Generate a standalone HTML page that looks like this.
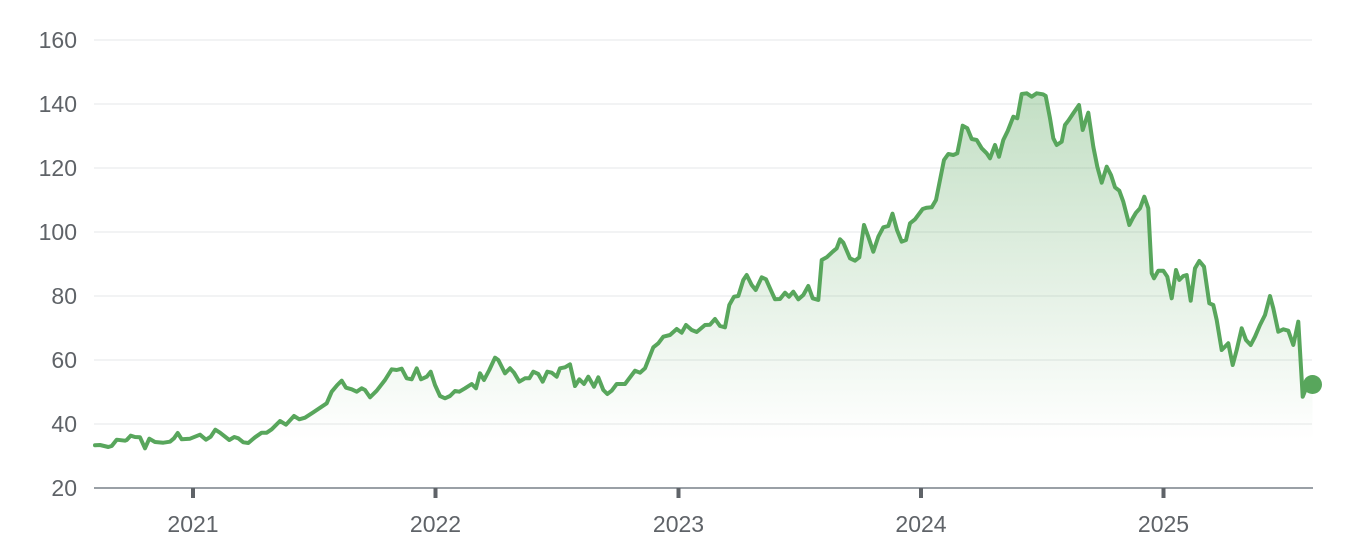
<!DOCTYPE html>
<html><head><meta charset="utf-8"><style>
html,body{margin:0;padding:0;background:#fff;}
svg{display:block;}
text{font-family:"Liberation Sans",Arial,sans-serif;font-size:23px;fill:#5f6368;}
</style></head><body>
<svg width="1348" height="552" viewBox="0 0 1348 552" xmlns="http://www.w3.org/2000/svg">
<defs>
<linearGradient id="g" gradientUnits="userSpaceOnUse" x1="0" y1="93" x2="0" y2="440">
<stop offset="0" stop-color="#58a65c" stop-opacity="0.36"/>
<stop offset="1" stop-color="#58a65c" stop-opacity="0"/>
</linearGradient>
</defs>
<g stroke="#eeeff0" stroke-width="1.5">
<line x1="94" y1="40" x2="1312" y2="40"/>
<line x1="94" y1="104" x2="1312" y2="104"/>
<line x1="94" y1="168" x2="1312" y2="168"/>
<line x1="94" y1="232" x2="1312" y2="232"/>
<line x1="94" y1="296" x2="1312" y2="296"/>
<line x1="94" y1="360" x2="1312" y2="360"/>
<line x1="94" y1="424" x2="1312" y2="424"/>
</g>
<g text-anchor="end">
<text x="77" y="48">160</text>
<text x="77" y="112">140</text>
<text x="77" y="176">120</text>
<text x="77" y="240">100</text>
<text x="77" y="304">80</text>
<text x="77" y="368">60</text>
<text x="77" y="432">40</text>
<text x="77" y="496">20</text>
</g>
<path fill="url(#g)" stroke="none" d="M95,445.3 L100,445 108.3,447 111.7,446 116.7,439.7 125,440.7 126.7,440 130.7,435.7 135,437 140,437.3 145,448.3 149.3,438.7 155,442 163.3,442.7 170,441.7 174,438.3 177.7,433 181.7,439.3 190,438.7 200,434.7 206,439.7 210.7,436.7 215.3,429.7 220,432.7 229.3,440 234.3,437 238.3,438.3 243.3,442.3 248.3,443 255,437.3 261.7,432.7 266.7,432.7 271.7,429.3 280,421 286,424.7 294,416 299.3,419.3 305,417.7 313.3,412.3 326.7,403.3 331.7,391.7 337.3,385 341.7,380.7 346,387.7 351.7,389.3 356.7,391.7 361.7,388.3 365,390 370,397.3 376.7,390.7 385,380 391.7,369.3 396.7,370 401.7,368.7 406.7,378.3 411.7,379.3 416.7,368.3 421,379.3 426.7,376.7 430.7,371.7 435,385 440,396 445,398.3 450,396 455,391 459.3,391.7 465,388.3 471.7,384 476,388.3 480,373.3 484,380 489.3,370 495,357.7 498.3,360 505,373.3 510,368.3 514,372.7 519.3,381.7 525,378.3 529.3,378.3 533.3,371.7 538.3,374 542.7,381.7 547.3,371.7 551.7,372.7 556.7,376.7 560,368.3 565,367.3 570,364.3 575,386 579.3,379.3 584,384 588.3,376.7 594,386.7 598.3,377.3 603.3,390 607.3,394 611.7,390.7 616.7,384 625,384 635,370.7 640,372.7 645,368.3 653.3,347.3 658.3,343.3 663.3,336.7 670,335 676.7,329 681.7,332.7 686,325 691.7,330 696.7,332 705,325 710,324.7 715,319 720,326 725,327.3 729.3,305 734,296.7 738.3,296 743.3,280 746.7,275 751.7,285 755.7,290 761.7,277.3 766,279.3 770,288.3 775,299.3 780,299 785,292.7 789,296.7 793.3,291.7 798.3,299.3 803.3,295 808.3,286 812.7,298.3 818.3,300 821.7,260 826.7,257.3 832.7,251.7 836.7,248.3 840,239.3 843.3,242.7 850,258.3 855,260.7 859.3,257.3 864,225 868.3,236.7 873.3,251.7 878.3,236.7 883.3,227.3 888.3,226 892.5,213.7 897,230 901.7,241.7 906,240 910,223.3 915,219.3 922.7,209 926.7,207.7 931.7,207.3 936,200 940,180 944,160 948.3,154 953.3,155 957.3,153.3 960,140 962.7,125.7 967.3,128.3 971.7,139 976.7,140 981.7,148.3 986.7,153.3 990,158.3 995,145 999,156.7 1003.3,140 1007.7,131 1013.3,116.7 1017.3,118.3 1021.7,94 1026.7,93.3 1031.7,96.7 1036.7,93.3 1043,94.3 1045.7,96 1050,118.3 1053.3,138.3 1056.7,145 1061.7,141.7 1065,125 1068.3,120.7 1073.3,113.3 1079,105 1082.7,130 1088.3,112.7 1093.3,146.7 1097.3,166.7 1101.7,182.7 1106.7,166.7 1111,175 1115,187.3 1119.3,190.7 1123.3,201.7 1129.3,225 1132.7,218.3 1136,212.7 1140,208.3 1144.3,196.7 1148.3,208.3 1151.7,273.3 1154,278.3 1158.3,270.7 1163.3,270.7 1167.3,276.7 1171.7,298.3 1176,270 1179.3,280 1183.3,276 1186.7,275 1190.7,300.7 1195,268.3 1199.3,261 1204,266.7 1209.3,303.3 1213.3,305 1216.7,320 1221.7,350 1228.3,343.3 1232.7,365 1236.7,350 1241.7,328.3 1246,340 1250.7,345 1255,336.7 1260,325 1265,315 1270,296 1273.3,308.3 1278.3,331.7 1283.3,329.3 1288.3,330.7 1293.3,345 1298.3,321.7 1302.7,396.7 1306.7,386.7 1312.5,384.5 L1312.5,488 L95,488 Z"/>
<polyline fill="none" stroke="#58a65c" stroke-width="4" stroke-linejoin="round" stroke-linecap="round" points="95,445.3 100,445 108.3,447 111.7,446 116.7,439.7 125,440.7 126.7,440 130.7,435.7 135,437 140,437.3 145,448.3 149.3,438.7 155,442 163.3,442.7 170,441.7 174,438.3 177.7,433 181.7,439.3 190,438.7 200,434.7 206,439.7 210.7,436.7 215.3,429.7 220,432.7 229.3,440 234.3,437 238.3,438.3 243.3,442.3 248.3,443 255,437.3 261.7,432.7 266.7,432.7 271.7,429.3 280,421 286,424.7 294,416 299.3,419.3 305,417.7 313.3,412.3 326.7,403.3 331.7,391.7 337.3,385 341.7,380.7 346,387.7 351.7,389.3 356.7,391.7 361.7,388.3 365,390 370,397.3 376.7,390.7 385,380 391.7,369.3 396.7,370 401.7,368.7 406.7,378.3 411.7,379.3 416.7,368.3 421,379.3 426.7,376.7 430.7,371.7 435,385 440,396 445,398.3 450,396 455,391 459.3,391.7 465,388.3 471.7,384 476,388.3 480,373.3 484,380 489.3,370 495,357.7 498.3,360 505,373.3 510,368.3 514,372.7 519.3,381.7 525,378.3 529.3,378.3 533.3,371.7 538.3,374 542.7,381.7 547.3,371.7 551.7,372.7 556.7,376.7 560,368.3 565,367.3 570,364.3 575,386 579.3,379.3 584,384 588.3,376.7 594,386.7 598.3,377.3 603.3,390 607.3,394 611.7,390.7 616.7,384 625,384 635,370.7 640,372.7 645,368.3 653.3,347.3 658.3,343.3 663.3,336.7 670,335 676.7,329 681.7,332.7 686,325 691.7,330 696.7,332 705,325 710,324.7 715,319 720,326 725,327.3 729.3,305 734,296.7 738.3,296 743.3,280 746.7,275 751.7,285 755.7,290 761.7,277.3 766,279.3 770,288.3 775,299.3 780,299 785,292.7 789,296.7 793.3,291.7 798.3,299.3 803.3,295 808.3,286 812.7,298.3 818.3,300 821.7,260 826.7,257.3 832.7,251.7 836.7,248.3 840,239.3 843.3,242.7 850,258.3 855,260.7 859.3,257.3 864,225 868.3,236.7 873.3,251.7 878.3,236.7 883.3,227.3 888.3,226 892.5,213.7 897,230 901.7,241.7 906,240 910,223.3 915,219.3 922.7,209 926.7,207.7 931.7,207.3 936,200 940,180 944,160 948.3,154 953.3,155 957.3,153.3 960,140 962.7,125.7 967.3,128.3 971.7,139 976.7,140 981.7,148.3 986.7,153.3 990,158.3 995,145 999,156.7 1003.3,140 1007.7,131 1013.3,116.7 1017.3,118.3 1021.7,94 1026.7,93.3 1031.7,96.7 1036.7,93.3 1043,94.3 1045.7,96 1050,118.3 1053.3,138.3 1056.7,145 1061.7,141.7 1065,125 1068.3,120.7 1073.3,113.3 1079,105 1082.7,130 1088.3,112.7 1093.3,146.7 1097.3,166.7 1101.7,182.7 1106.7,166.7 1111,175 1115,187.3 1119.3,190.7 1123.3,201.7 1129.3,225 1132.7,218.3 1136,212.7 1140,208.3 1144.3,196.7 1148.3,208.3 1151.7,273.3 1154,278.3 1158.3,270.7 1163.3,270.7 1167.3,276.7 1171.7,298.3 1176,270 1179.3,280 1183.3,276 1186.7,275 1190.7,300.7 1195,268.3 1199.3,261 1204,266.7 1209.3,303.3 1213.3,305 1216.7,320 1221.7,350 1228.3,343.3 1232.7,365 1236.7,350 1241.7,328.3 1246,340 1250.7,345 1255,336.7 1260,325 1265,315 1270,296 1273.3,308.3 1278.3,331.7 1283.3,329.3 1288.3,330.7 1293.3,345 1298.3,321.7 1302.7,396.7 1306.7,386.7 1312.5,384.5"/>
<circle cx="1312.5" cy="384.5" r="9.5" fill="#58a65c"/>
<line x1="94" y1="488" x2="1313" y2="488" stroke="#9aa0a6" stroke-width="2"/>
<g stroke="#5f6368" stroke-width="4">
<line x1="193" y1="488" x2="193" y2="498"/>
<line x1="435.5" y1="488" x2="435.5" y2="498"/>
<line x1="678.5" y1="488" x2="678.5" y2="498"/>
<line x1="921" y1="488" x2="921" y2="498"/>
<line x1="1163.5" y1="488" x2="1163.5" y2="498"/>
</g>
<g text-anchor="middle">
<text x="193" y="532">2021</text>
<text x="435.5" y="532">2022</text>
<text x="678.5" y="532">2023</text>
<text x="921" y="532">2024</text>
<text x="1163.5" y="532">2025</text>
</g>
</svg>
</body></html>
